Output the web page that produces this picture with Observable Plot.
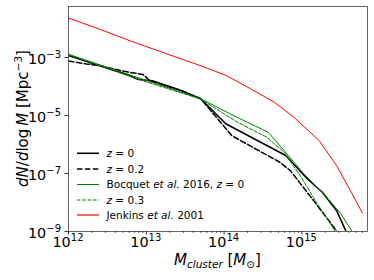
<!DOCTYPE html>
<html><head><meta charset="utf-8">
<script src="https://cdn.jsdelivr.net/npm/d3@7"></script>
<script src="https://cdn.jsdelivr.net/npm/@observablehq/plot@0.6"></script>
<style>body{margin:0;background:#fff} svg{display:block}</style>
</head><body><div id="chart"></div>
<script>
// tick values
const xTicks = [1e12, 1e13, 1e14, 1e15];
const yTicks = [1e-3, 1e-5, 1e-7, 1e-9];

// simulation z = 0 (black solid)
const massZ0 = [1.0e12, 3.16e12, 5.6e12, 7.9e12, 1.2e13, 2.75e13, 5.0e13, 1.05e14, 6.2e14, 1.17e15, 1.82e15, 2.8e15, 4.0e15];
const dndmZ0 = [1.17e-3, 4.3e-4, 2.6e-4, 1.74e-4, 1.58e-4, 7.4e-5, 3.8e-5, 5.2e-6, 4.2e-7, 6.6e-8, 2.3e-8, 5.2e-9, 6.3e-10];
// simulation z = 0.2 (black dashed)
const massZ02 = [1.0e12, 1.7e12, 2.57e12, 5.0e12, 9.1e12, 1.12e13, 2.75e13, 5.0e13, 1.26e14, 5.2e14, 7.1e14, 1.41e15, 2.57e15, 3.16e15];
const dndmZ02 = [7.6e-4, 6.0e-4, 5.2e-4, 3.4e-4, 2.6e-4, 1.55e-4, 7.4e-5, 3.8e-5, 2.0e-6, 2.45e-7, 1.26e-7, 1.17e-8, 1.41e-9, 6.3e-10];
// Bocquet et al. 2016, z = 0 (green solid)
const massB0 = [1.0e12, 5.0e13, 1.32e14, 3.7e14, 5.9e14, 1.05e15, 1.9e15, 3.16e15, 4.47e15, 5.0e15];
const dndmB0 = [1.29e-3, 3.8e-5, 1.0e-5, 2.63e-6, 6.2e-7, 1.0e-7, 2.0e-8, 4.1e-9, 9.5e-10, 6.3e-10];
// Bocquet z = 0.3 (green dashed)
const massB03 = [1.0e12, 7.9e12, 5.0e13, 1.48e14, 3.55e14, 5.9e14, 9.5e14, 1.58e15, 2.57e15, 2.82e15];
const dndmB03 = [1.26e-3, 1.78e-4, 3.7e-5, 5.9e-6, 1.78e-6, 5.4e-7, 8.5e-8, 8.9e-9, 1.23e-9, 7.9e-10];
// Jenkins et al. 2001 (red)
const massJ = [1.0e12, 2.57e12, 6.5e12, 1.78e13, 5.0e13, 1.07e14, 2.2e14, 4.4e14, 7.9e14, 1.66e15, 2.8e15, 4.2e15, 6.0e15];
const dndmJ = [2.3e-2, 9.3e-3, 3.6e-3, 1.38e-3, 5.2e-4, 2.4e-4, 8.3e-5, 2.9e-5, 8.7e-6, 1.38e-6, 1.86e-7, 2.57e-8, 4.3e-9];

const series = [
  {m: massZ0, v: dndmZ0, stroke: "#000000", width: 1.6, dash: "none"},
  {m: massZ02, v: dndmZ02, stroke: "#000000", width: 1.5, dash: "5.5,2.4"},
  {m: massB0, v: dndmB0, stroke: "#008000", width: 1, dash: "none"},
  {m: massB03, v: dndmB03, stroke: "#008000", width: 1, dash: "3.7,1.6"},
  {m: massJ, v: dndmJ, stroke: "#ff0000", width: 1, dash: "none"}
];

const minorX = [];
for (let e = 12; e <= 15; e++) for (let k = 2; k <= 9; k++) { const v = k * 10 ** e; if (v < 6.97e15) minorX.push(v); }

const FONT = "DejaVu Sans";
const plot = Plot.plot({
  width: 374, height: 280,
  marginLeft: 68, marginRight: 7, marginTop: 6, marginBottom: 49,
  style: {fontFamily: FONT, background: "#fff"},
  x: {type: "log", domain: [1e12, 6.97e15], label: null},
  y: {type: "log", domain: [1e-9, 0.0575], label: null},
  marks: [
    ...series.map(s => Plot.line(s.m.map((m, i) => ({m, v: s.v[i]})), {
      x: "m", y: "v", stroke: s.stroke, strokeWidth: s.width,
      strokeDasharray: s.dash === "none" ? undefined : s.dash, clip: true
    })),
    Plot.frame({stroke: "#555", strokeWidth: 0.9}),
    Plot.axisX({ticks: minorX, tickSize: 2, tickFormat: () => "", strokeWidth: 0.6}),
    Plot.axisX({ticks: xTicks, tickSize: 3.5, tickFormat: () => "", strokeWidth: 0.8}),
    Plot.axisY({ticks: yTicks, tickSize: 3.5, tickFormat: () => "", strokeWidth: 0.8})
  ]
});

const sx = plot.scale("x"), sy = plot.scale("y");
const svg = d3.select(plot);

function rich(sel, parts) {
  parts.forEach(p => {
    const t = sel.append("tspan").text(p.t);
    if (p.i) t.attr("font-style", "italic");
    if (p.fs) t.attr("font-size", p.fs);
    if (p.dy) t.attr("dy", p.dy);
  });
}

// x tick labels
xTicks.forEach(v => {
  const e = Math.round(Math.log10(v));
  const t = svg.append("text").attr("x", sx.apply(v)).attr("y", 247)
    .attr("text-anchor", "middle").attr("font-size", 14.4).attr("fill", "#000");
  rich(t, [{t: "10"}, {t: String(e), fs: 10, dy: -6}]);
});
// y tick labels
yTicks.forEach(v => {
  const e = Math.round(Math.log10(v));
  const t = svg.append("text").attr("x", 61).attr("y", sy.apply(v) + 6.5)
    .attr("text-anchor", "end").attr("font-size", 14.4).attr("fill", "#000");
  rich(t, [{t: "10"}, {t: "\u2212" + String(-e), fs: 10, dy: -6}]);
});

// axis labels
const xl = svg.append("text").attr("x", 217.5).attr("y", 265).attr("text-anchor", "middle")
  .attr("font-size", 15).attr("fill", "#000");
rich(xl, [{t: "M", i: true}, {t: "cluster", i: true, fs: 10.5, dy: 3}, {t: " [", dy: -3}, {t: "M", i: true}, {t: "\u2299", fs: 10.5, dy: 3}, {t: "]", dy: -3}]);

const yl = svg.append("text").attr("transform", "translate(27.5,118.5) rotate(-90)").attr("text-anchor", "middle")
  .attr("font-size", 15).attr("fill", "#000");
rich(yl, [{t: "dN", i: true}, {t: "/"}, {t: "d", i: true}, {t: "log\u2009"}, {t: "M", i: true}, {t: " [Mpc"}, {t: "\u22123", fs: 10.5, dy: -6}, {t: "]", dy: 6}]);

// legend
const legendItems = [
  {parts: [{t: "z", i: true}, {t: " = 0"}]},
  {parts: [{t: "z", i: true}, {t: " = 0.2"}]},
  {parts: [{t: "Bocquet "}, {t: "et al.", i: true}, {t: " 2016, "}, {t: "z", i: true}, {t: " = 0"}]},
  {parts: [{t: "z", i: true}, {t: " = 0.3"}]},
  {parts: [{t: "Jenkins "}, {t: "et al.", i: true}, {t: " 2001"}]}
];
const legendY = [153.3, 169, 184.5, 200, 215];
const lg = svg.append("g").attr("class", "legend");
legendItems.forEach((it, i) => {
  const s = series[i], y = legendY[i];
  lg.append("path").attr("d", `M77,${y}H99`).attr("fill", "none")
    .style("stroke", s.stroke).style("stroke-width", i === 4 ? 1.6 : s.width)
    .style("stroke-opacity", i === 4 ? 0.75 : 1)
    .style("stroke-dasharray", s.dash);
  const t = lg.append("text").attr("x", 106.5).attr("y", y + 3.8).attr("text-anchor", "start")
    .attr("font-size", 10.5).attr("fill", "#000");
  rich(t, it.parts);
});

document.getElementById("chart").appendChild(plot);
</script>
</body></html>
